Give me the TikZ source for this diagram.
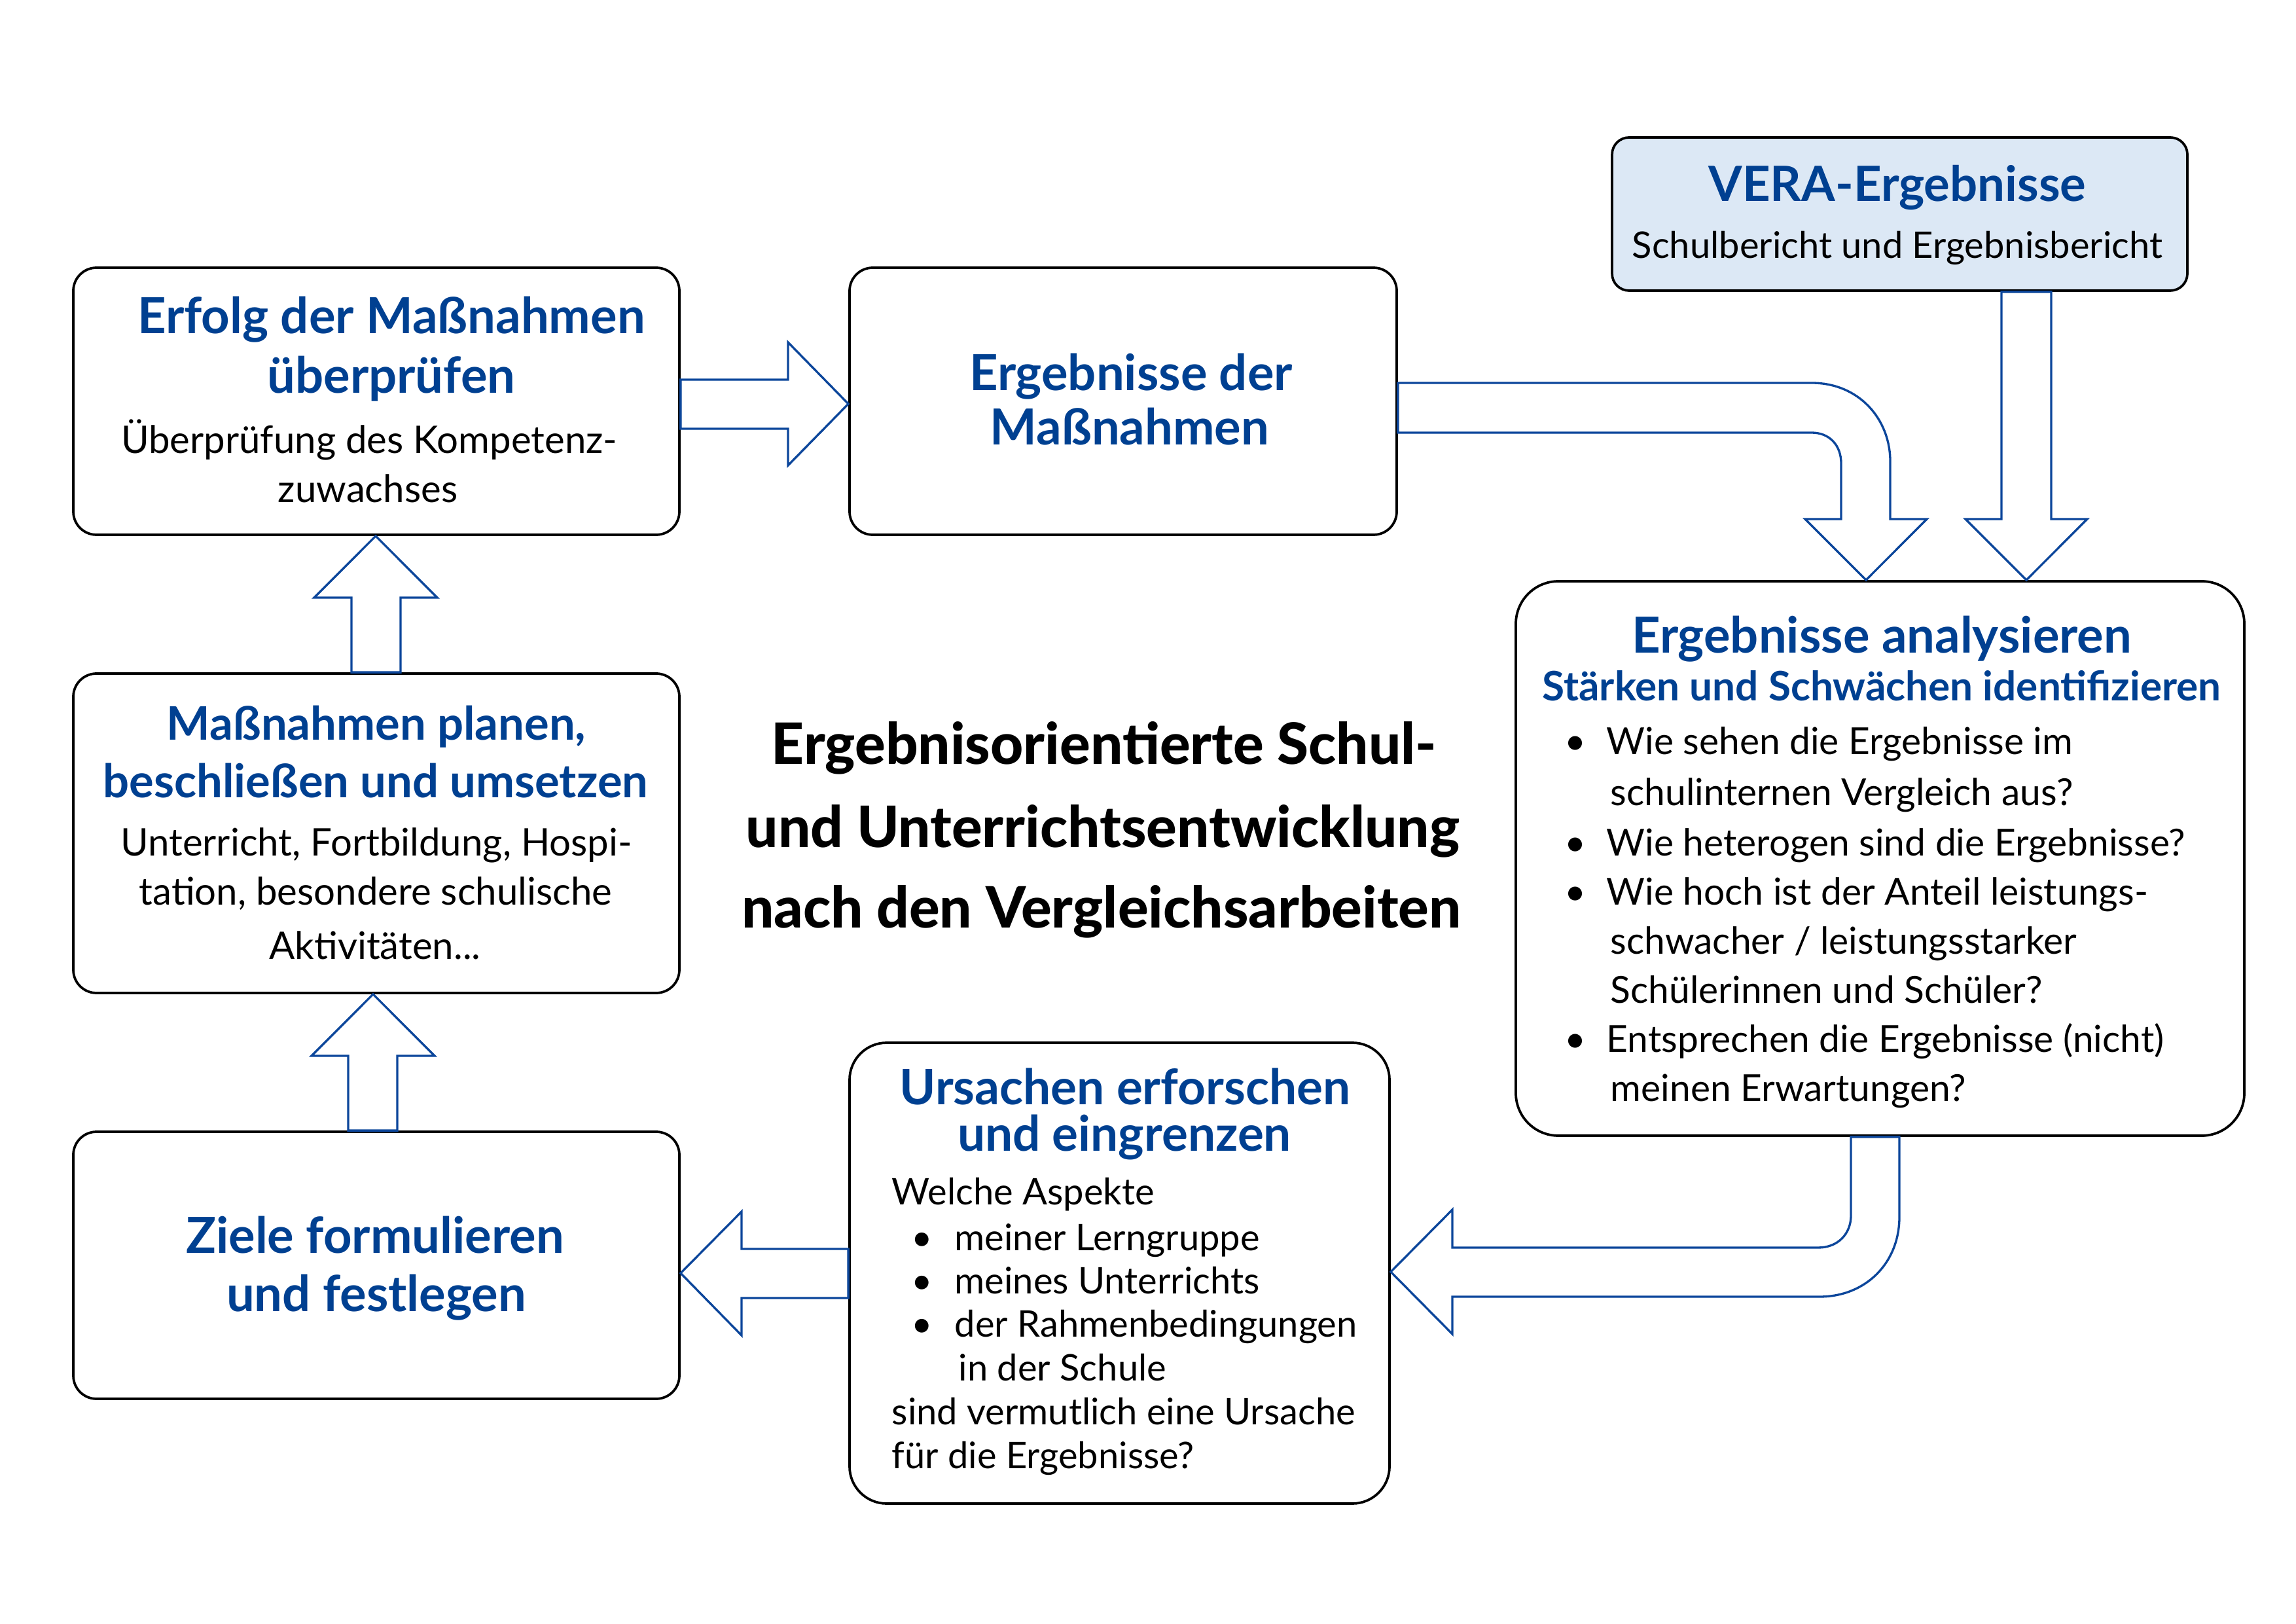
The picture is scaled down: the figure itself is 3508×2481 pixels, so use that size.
\documentclass[tikz,border=0pt]{standalone}
\usepackage{fontspec}
\setmainfont{Lato}
\newfontfamily\heavyfont{Lato Heavy}
\usetikzlibrary{fit,calc}
\definecolor{tblue}{RGB}{0,64,145}
\definecolor{ablue}{RGB}{12,70,155}
\definecolor{verafill}{RGB}{220,232,245}
\newcommand\mybul[1]{\llap{\makebox[#1][c]{\textbullet}}}
\begin{document}
\begin{tikzpicture}[x=0.084664mm, y=-0.084664mm,
  box/.style={draw=black, line width=0.9pt, inner sep=0pt},
  blk/.style={draw=ablue, line width=0.8pt, line join=miter},
  ttl/.style={inner sep=0pt, anchor=base, text=tblue, font=\fontsize{18.3}{22}\selectfont\bfseries},
  sub/.style={inner sep=0pt, anchor=base, text=tblue, font=\fontsize{14.95}{18}\selectfont\bfseries},
  txt/.style={inner sep=0pt, anchor=base, font=\fontsize{14}{17}\selectfont},
  txl/.style={inner sep=0pt, anchor=base west, font=\fontsize{13.7}{17}\selectfont},
  txs/.style={inner sep=0pt, anchor=base west, font=\fontsize{13.5}{16}\selectfont},
  big/.style={inner sep=0pt, anchor=base, font=\fontsize{21}{25}\selectfont\heavyfont}]
\fill[white] (0,0) rectangle (3508,2481);
\useasboundingbox (0,0) rectangle (3508,2481);

% boxes
\node[box, rounded corners=3mm, fit={(112,409)(1038,817)}] (erfolg) {};
\node[box, rounded corners=3mm, fit={(1298,409)(2134,817)}] (ergmass) {};
\node[box, rounded corners=2.2mm, fill=verafill, fit={(2463,210)(3342,444)}] (vera) {};
\node[box, rounded corners=5.5mm, fit={(2316,888)(3429,1735)}] (analys) {};
\node[box, rounded corners=3mm, fit={(112,1029)(1038,1517)}] (planen) {};
\node[box, rounded corners=3mm, fit={(112,1729)(1038,2137)}] (ziele) {};
\node[box, rounded corners=4.8mm, fit={(1298,1593)(2123,2297)}] (ursachen) {};

% texts: Erfolg
\node[ttl] (erfolgT1) at (598,510) {Erfolg der Maßnahmen};
\node[ttl] (erfolgT2) at (598,601) {überprüfen};
\node[txt] (erfolgB1) at (564,693) {Überprüfung des Kompetenz-};
\node[txt] (erfolgB2) at (562,768) {zuwachses};

% Ergebnisse der Massnahmen
\node[ttl] (ergmassT1) at (1728,597) {Ergebnisse der};
\node[ttl] (ergmassT2) at (1726,680) {Maßnahmen};

% VERA
\node[ttl, font=\fontsize{17.9}{22}\selectfont\bfseries] (veraT) at (2899,308) {VERA-Ergebnisse};
\node[txt, font=\fontsize{13.5}{17}\selectfont] (veraB) at (2899,395) {Schulbericht und Ergebnisbericht};

% analysieren
\node[ttl] (analysT) at (2875,998) {Ergebnisse analysieren};
\node[sub] (analysS) at (2875,1071) {Stärken und Schwächen identifizieren};
\node[txl] (an1) at (2454,1153) {\mybul{23pt}Wie sehen die Ergebnisse im};
\node[txl] (an2) at (2460,1231) {schulinternen Vergleich aus?};
\node[txl] (an3) at (2454,1307) {\mybul{23pt}Wie heterogen sind die Ergebnisse?};
\node[txl] (an4) at (2454,1382) {\mybul{23pt}Wie hoch ist der Anteil leistungs-};
\node[txl] (an5) at (2460,1457) {schwacher / leistungsstarker};
\node[txl] (an6) at (2460,1532) {Schülerinnen und Schüler?};
\node[txl] (an7) at (2454,1607) {\mybul{23pt}Entsprechen die Ergebnisse (nicht)};
\node[txl] (an8) at (2460,1682) {meinen Erwartungen?};

% planen
\node[ttl, font=\fontsize{17}{21}\selectfont\bfseries] (planenT1) at (575,1131) {Maßnahmen planen,};
\node[ttl, font=\fontsize{17}{21}\selectfont\bfseries] (planenT2) at (574,1218) {beschließen und umsetzen};
\node[txt] (planenB1) at (575,1307) {Unterricht, Fortbildung, Hospi-};
\node[txt] (planenB2) at (574,1382) {tation, besondere schulische};
\node[txt] (planenB3) at (573,1465) {Aktivitäten...};

% ziele
\node[ttl] (zieleT1) at (573,1914) {Ziele formulieren};
\node[ttl] (zieleT2) at (575,2003) {und festlegen};

% ursachen
\node[ttl, font=\fontsize{18}{22}\selectfont\bfseries] (ursT1) at (1719,1687) {Ursachen erforschen};
\node[ttl, font=\fontsize{18}{22}\selectfont\bfseries] (ursT2) at (1718,1758) {und eingrenzen};
\node[txs] (ur1) at (1362,1840) {Welche Aspekte};
\node[txs] (ur2) at (1458,1910) {\mybul{24pt}meiner Lerngruppe};
\node[txs] (ur3) at (1458,1976) {\mybul{24pt}meines Unterrichts};
\node[txs] (ur4) at (1458,2042) {\mybul{24pt}der Rahmenbedingungen};
\node[txs] (ur5) at (1464,2109) {in der Schule};
\node[txs] (ur6) at (1362,2176) {sind vermutlich eine Ursache};
\node[txs] (ur7) at (1362,2243) {für die Ergebnisse?};

% center title
\node[big] (mid1) at (1687,1168) {Ergebnisorientierte Schul-};
\node[big] (mid2) at (1685,1295) {und Unterrichtsentwicklung};
\node[big] (mid3) at (1683,1417) {nach den Vergleichsarbeiten};

% block arrows
% Erfolg -> Ergebnisse der Massnahmen
\draw[blk] (erfolg.east |- 0,580) -- (1204,580) -- (1204,523) -- (ergmass.west |- 0,617)
  -- (1204,711) -- (1204,655) -- (erfolg.east |- 0,655) -- cycle;
% planen -> erfolg
\draw[blk] (537,0 |- planen.north) -- (537,913) -- (480,913) -- (574,0 |- erfolg.south)
  -- (668,913) -- (612,913) -- (612,0 |- planen.north) -- cycle;
% ziele -> planen
\draw[blk] (532,0 |- ziele.north) -- (532,1613) -- (476,1613) -- (570,0 |- planen.south)
  -- (664,1613) -- (607,1613) -- (607,0 |- ziele.north) -- cycle;
% ursachen -> ziele
\draw[blk] (ursachen.west |- 0,1908) -- (1133,1908) -- (1133,1851) -- (ziele.east |- 0,1945)
  -- (1133,2040) -- (1133,1983) -- (ursachen.west |- 0,1983) -- cycle;
% vera -> analys
\draw[blk] (3058,0 |- vera.south) -- (3058,793) -- (3003,793) -- (3096,0 |- analys.north)
  -- (3189,793) -- (3134,793) -- (3134,0 |- vera.south) -- cycle;
% ergmass -> analys (curved)
\draw[blk] (ergmass.east |- 0,585) -- (2768,585) .. controls (2840,585) and (2888,640) .. (2888,705)
  -- (2888,793) -- (2944,793) -- (2851,0 |- analys.north) -- (2758,793) -- (2813,793)
  -- (2813,708) .. controls (2813,680) and (2795,661) .. (2768,661)
  -- (ergmass.east |- 0,661) -- cycle;
% analys -> ursachen (curved)
\draw[blk] (2828,0 |- analys.south) -- (2828,1857) .. controls (2828,1885) and (2808,1906) .. (2778,1906)
  -- (2219,1906) -- (2219,1848) -- (ursachen.east |- 0,1943) -- (2219,2038) -- (2219,1981)
  -- (2780,1981) .. controls (2850,1981) and (2902,1930) .. (2902,1859)
  -- (2902,0 |- analys.south) -- cycle;
\end{tikzpicture}
\end{document}
